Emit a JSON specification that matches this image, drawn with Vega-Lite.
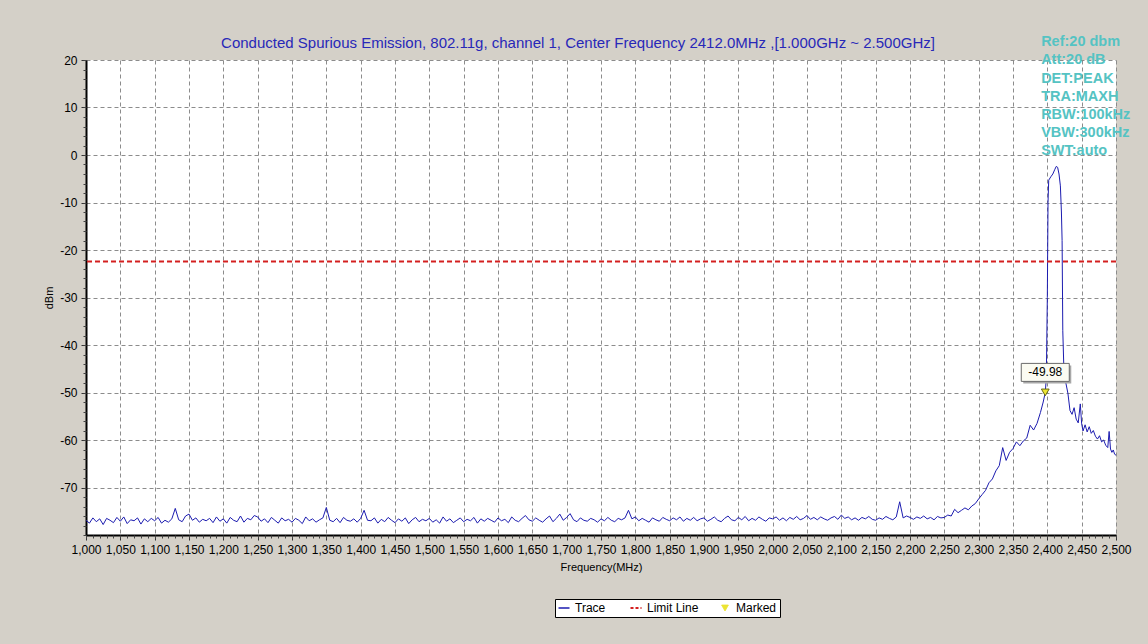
{
"$schema":"https://vega.github.io/schema/vega-lite/v6.json",
"width":1030,"height":475,
"autosize":{"type":"none"},
"padding":{"left":86,"top":60,"right":32,"bottom":109},
"background":"#d4d0c8",
"config":{"view":{"fill":"white","stroke":null},"font":"Liberation Sans"},
"title":{"text":"Conducted Spurious Emission, 802.11g, channel 1, Center Frequency 2412.0MHz ,[1.000GHz ~ 2.500GHz]","color":"#2828b8","fontSize":15,"fontWeight":"normal","font":"Liberation Sans","anchor":"middle","dx":-23,"offset":-17},
"datasets":{
"trace":[
{"f":1000,"v":-76.9},{"f":1005,"v":-77.5},{"f":1010,"v":-76.4},{"f":1015,"v":-77.2},{"f":1020,"v":-76.6},{"f":1025,"v":-77.8},{"f":1030,"v":-76.5},{"f":1035,"v":-76.9},{"f":1040,"v":-77.4},{"f":1045,"v":-76.3},
{"f":1050,"v":-77.1},{"f":1055,"v":-76.2},{"f":1060,"v":-77.6},{"f":1065,"v":-76.8},{"f":1070,"v":-77.0},{"f":1075,"v":-76.4},{"f":1080,"v":-77.7},{"f":1085,"v":-76.6},{"f":1090,"v":-77.2},{"f":1095,"v":-76.5},
{"f":1100,"v":-77.0},{"f":1105,"v":-76.3},{"f":1110,"v":-77.5},{"f":1115,"v":-76.9},{"f":1120,"v":-77.3},{"f":1125,"v":-76.6},{"f":1130,"v":-74.4},{"f":1135,"v":-76.8},{"f":1140,"v":-77.2},{"f":1145,"v":-76.0},
{"f":1150,"v":-75.6},{"f":1155,"v":-76.9},{"f":1160,"v":-76.4},{"f":1165,"v":-77.3},{"f":1170,"v":-76.7},{"f":1175,"v":-77.0},{"f":1180,"v":-76.5},{"f":1185,"v":-77.4},{"f":1190,"v":-76.2},{"f":1195,"v":-77.1},
{"f":1200,"v":-76.6},{"f":1205,"v":-77.5},{"f":1210,"v":-76.3},{"f":1215,"v":-76.9},{"f":1220,"v":-77.2},{"f":1225,"v":-76.0},{"f":1230,"v":-77.3},{"f":1235,"v":-76.5},{"f":1240,"v":-76.8},{"f":1245,"v":-75.9},
{"f":1250,"v":-76.2},{"f":1255,"v":-77.1},{"f":1260,"v":-76.6},{"f":1265,"v":-77.4},{"f":1270,"v":-76.3},{"f":1275,"v":-76.9},{"f":1280,"v":-77.5},{"f":1285,"v":-76.4},{"f":1290,"v":-77.0},{"f":1295,"v":-76.7},
{"f":1300,"v":-77.3},{"f":1305,"v":-76.5},{"f":1310,"v":-76.9},{"f":1315,"v":-77.6},{"f":1320,"v":-76.2},{"f":1325,"v":-77.0},{"f":1330,"v":-76.6},{"f":1335,"v":-77.3},{"f":1340,"v":-76.8},{"f":1345,"v":-76.4},
{"f":1350,"v":-74.2},{"f":1355,"v":-76.9},{"f":1360,"v":-77.2},{"f":1365,"v":-76.5},{"f":1370,"v":-77.4},{"f":1375,"v":-76.3},{"f":1380,"v":-76.9},{"f":1385,"v":-77.1},{"f":1390,"v":-76.6},{"f":1395,"v":-77.3},
{"f":1400,"v":-76.5},{"f":1405,"v":-74.8},{"f":1410,"v":-76.9},{"f":1415,"v":-77.0},{"f":1420,"v":-76.4},{"f":1425,"v":-77.5},{"f":1430,"v":-76.7},{"f":1435,"v":-77.2},{"f":1440,"v":-76.3},{"f":1445,"v":-76.9},
{"f":1450,"v":-77.4},{"f":1455,"v":-76.6},{"f":1460,"v":-77.1},{"f":1465,"v":-76.4},{"f":1470,"v":-77.6},{"f":1475,"v":-76.8},{"f":1480,"v":-76.3},{"f":1485,"v":-77.2},{"f":1490,"v":-76.7},{"f":1495,"v":-77.0},
{"f":1500,"v":-76.5},{"f":1505,"v":-77.3},{"f":1510,"v":-76.8},{"f":1515,"v":-77.5},{"f":1520,"v":-76.2},{"f":1525,"v":-77.1},{"f":1530,"v":-76.6},{"f":1535,"v":-77.4},{"f":1540,"v":-76.9},{"f":1545,"v":-76.4},
{"f":1550,"v":-77.2},{"f":1555,"v":-76.7},{"f":1560,"v":-77.0},{"f":1565,"v":-76.3},{"f":1570,"v":-77.5},{"f":1575,"v":-76.6},{"f":1580,"v":-77.1},{"f":1585,"v":-76.5},{"f":1590,"v":-76.9},{"f":1595,"v":-77.3},
{"f":1600,"v":-76.4},{"f":1605,"v":-77.0},{"f":1610,"v":-76.7},{"f":1615,"v":-77.4},{"f":1620,"v":-76.2},{"f":1625,"v":-76.9},{"f":1630,"v":-77.2},{"f":1635,"v":-76.5},{"f":1640,"v":-75.9},{"f":1645,"v":-76.8},
{"f":1650,"v":-77.1},{"f":1655,"v":-76.4},{"f":1660,"v":-76.9},{"f":1665,"v":-77.3},{"f":1670,"v":-76.6},{"f":1675,"v":-76.0},{"f":1680,"v":-77.2},{"f":1685,"v":-76.5},{"f":1690,"v":-75.6},{"f":1695,"v":-76.9},
{"f":1700,"v":-76.3},{"f":1705,"v":-75.5},{"f":1710,"v":-76.8},{"f":1715,"v":-77.2},{"f":1720,"v":-76.4},{"f":1725,"v":-76.9},{"f":1730,"v":-77.1},{"f":1735,"v":-76.5},{"f":1740,"v":-76.8},{"f":1745,"v":-77.3},
{"f":1750,"v":-76.6},{"f":1755,"v":-77.0},{"f":1760,"v":-76.3},{"f":1765,"v":-76.9},{"f":1770,"v":-77.2},{"f":1775,"v":-76.5},{"f":1780,"v":-76.8},{"f":1785,"v":-76.4},{"f":1790,"v":-74.8},{"f":1795,"v":-76.6},
{"f":1800,"v":-76.2},{"f":1805,"v":-77.0},{"f":1810,"v":-76.5},{"f":1815,"v":-76.9},{"f":1820,"v":-77.3},{"f":1825,"v":-76.4},{"f":1830,"v":-76.8},{"f":1835,"v":-77.1},{"f":1840,"v":-76.3},{"f":1845,"v":-76.7},
{"f":1850,"v":-77.0},{"f":1855,"v":-76.4},{"f":1860,"v":-76.8},{"f":1865,"v":-76.2},{"f":1870,"v":-77.1},{"f":1875,"v":-76.5},{"f":1880,"v":-76.9},{"f":1885,"v":-76.3},{"f":1890,"v":-77.0},{"f":1895,"v":-76.6},
{"f":1900,"v":-76.4},{"f":1905,"v":-77.1},{"f":1910,"v":-76.7},{"f":1915,"v":-76.2},{"f":1920,"v":-76.9},{"f":1925,"v":-77.2},{"f":1930,"v":-76.5},{"f":1935,"v":-76.0},{"f":1940,"v":-76.8},{"f":1945,"v":-77.0},
{"f":1950,"v":-76.3},{"f":1955,"v":-76.8},{"f":1960,"v":-76.1},{"f":1965,"v":-77.0},{"f":1970,"v":-76.5},{"f":1975,"v":-76.9},{"f":1980,"v":-76.2},{"f":1985,"v":-76.7},{"f":1990,"v":-77.1},{"f":1995,"v":-76.4},
{"f":2000,"v":-76.6},{"f":2005,"v":-76.2},{"f":2010,"v":-76.9},{"f":2015,"v":-76.4},{"f":2020,"v":-77.0},{"f":2025,"v":-76.3},{"f":2030,"v":-76.7},{"f":2035,"v":-76.1},{"f":2040,"v":-76.8},{"f":2045,"v":-76.5},
{"f":2050,"v":-75.9},{"f":2055,"v":-76.7},{"f":2060,"v":-76.3},{"f":2065,"v":-76.8},{"f":2070,"v":-76.2},{"f":2075,"v":-76.6},{"f":2080,"v":-76.9},{"f":2085,"v":-76.4},{"f":2090,"v":-76.1},{"f":2095,"v":-76.7},
{"f":2100,"v":-75.8},{"f":2105,"v":-76.5},{"f":2110,"v":-76.2},{"f":2115,"v":-76.8},{"f":2120,"v":-76.4},{"f":2125,"v":-76.9},{"f":2130,"v":-76.3},{"f":2135,"v":-76.6},{"f":2140,"v":-76.1},{"f":2145,"v":-76.7},
{"f":2150,"v":-76.9},{"f":2155,"v":-76.4},{"f":2160,"v":-76.7},{"f":2165,"v":-76.1},{"f":2170,"v":-76.5},{"f":2175,"v":-76.8},{"f":2180,"v":-76.2},{"f":2185,"v":-73.0},{"f":2190,"v":-76.4},{"f":2195,"v":-76.0},
{"f":2200,"v":-76.3},{"f":2205,"v":-76.7},{"f":2210,"v":-76.2},{"f":2215,"v":-76.5},{"f":2220,"v":-76.0},{"f":2225,"v":-76.6},{"f":2230,"v":-76.3},{"f":2235,"v":-76.8},{"f":2240,"v":-76.1},{"f":2245,"v":-76.4},
{"f":2250,"v":-76.3},{"f":2255,"v":-75.8},{"f":2260,"v":-76.0},{"f":2265,"v":-74.6},{"f":2270,"v":-75.3},{"f":2275,"v":-74.8},{"f":2280,"v":-74.3},{"f":2285,"v":-74.7},{"f":2290,"v":-73.9},{"f":2295,"v":-73.4},
{"f":2300,"v":-72.4},{"f":2305,"v":-71.5},{"f":2310,"v":-70.6},{"f":2315,"v":-69.0},{"f":2320,"v":-68.2},{"f":2325,"v":-66.5},{"f":2330,"v":-65.4},{"f":2335,"v":-61.6},{"f":2340,"v":-64.3},{"f":2345,"v":-62.6},
{"f":2350,"v":-61.8},{"f":2355,"v":-60.4},{"f":2360,"v":-61.2},{"f":2365,"v":-60.2},{"f":2370,"v":-59.6},{"f":2375,"v":-56.9},{"f":2380,"v":-57.9},{"f":2385,"v":-56.5},{"f":2390,"v":-54.2},{"f":2394,"v":-52.0},
{"f":2397,"v":-49.98},{"f":2398.5,"v":-47},{"f":2400,"v":-30},{"f":2401,"v":-10},{"f":2402,"v":-5.3},{"f":2405,"v":-4.6},{"f":2408,"v":-4.0},{"f":2411,"v":-3.0},{"f":2413,"v":-2.4},{"f":2415,"v":-2.6},
{"f":2417,"v":-4.0},{"f":2419,"v":-6.5},{"f":2420.5,"v":-12},{"f":2421.5,"v":-18},{"f":2422.5,"v":-37},{"f":2424,"v":-44.6},{"f":2427,"v":-48},{"f":2430,"v":-50.2},{"f":2433,"v":-53.8},{"f":2436,"v":-54.6},
{"f":2439,"v":-53.2},{"f":2442,"v":-55.6},{"f":2445,"v":-56.4},{"f":2448,"v":-52.4},{"f":2450,"v":-56.6},{"f":2452,"v":-58.1},{"f":2455,"v":-56.8},{"f":2458,"v":-58.3},{"f":2461,"v":-57.2},{"f":2464,"v":-58.6},
{"f":2467,"v":-58.0},{"f":2470,"v":-59.2},{"f":2473,"v":-59.8},{"f":2476,"v":-59.1},{"f":2479,"v":-60.4},{"f":2482,"v":-60.0},{"f":2485,"v":-61.1},{"f":2488,"v":-61.6},{"f":2490,"v":-58.2},{"f":2492,"v":-61.9},
{"f":2494,"v":-62.6},{"f":2496,"v":-62.1},{"f":2498,"v":-63.0},{"f":2500,"v":-63.2}
],
"marker":[{"f":2397,"v":-49.98,"label":"-49.98"}],
"limit":[{"v":-22.4}]
},
"resolve":{"axis":{"x":"independent","y":"independent"}},
"layer":[
{"data":{"name":"trace"},
 "mark":{"type":"line","strokeWidth":1,"interpolate":"linear"},
 "encoding":{
  "x":{"field":"f","type":"quantitative","scale":{"domain":[1000,2500],"nice":false,"zero":false},
   "axis":{"values":[1000,1050,1100,1150,1200,1250,1300,1350,1400,1450,1500,1550,1600,1650,1700,1750,1800,1850,1900,1950,2000,2050,2100,2150,2200,2250,2300,2350,2400,2450,2500],
    "format":",d","title":"Frequency(MHz)","titleFontSize":11,"titleFontWeight":"normal","titleColor":"black","titlePadding":6,
    "labelFontSize":12,"labelColor":"black","labelPadding":4,"labelFlush":false,"labelOverlap":false,
    "tickSize":5,"tickColor":"#333","domainColor":"black","domainWidth":2,
    "grid":true,"gridDash":[4,3],"gridColor":"#8c8c8c","gridWidth":1}},
  "y":{"field":"v","type":"quantitative","scale":{"domain":[-80,20],"nice":false,"zero":false},
   "axis":{"values":[-70,-60,-50,-40,-30,-20,-10,0,10,20],"labelExpr":"'' + datum.value",
    "title":"dBm","titleFontSize":11,"titleFontWeight":"normal","titleColor":"black","titlePadding":5,
    "labelFontSize":12,"labelColor":"black","labelPadding":4,"labelFlush":false,
    "tickSize":5,"tickColor":"#333","domainColor":"black","domainWidth":2,
    "grid":true,"gridDash":[4,3],"gridColor":"#8c8c8c","gridWidth":1}},
  "color":{"datum":"Trace","scale":{"domain":["Trace","Limit Line","Marked"],"range":["#1c1cb0","#d42020","#ece432"]},
   "legend":{"orient":"none","legendX":469,"legendY":539,"direction":"horizontal","columns":3,"title":null,
    "fillColor":"white","strokeColor":"black","padding":3,"columnPadding":20,
    "labelFont":"Liberation Sans","labelFontSize":12,"labelColor":"black","labelOffset":5,
    "symbolType":"stroke","symbolSize":121,
    "encode":{"symbols":{"update":{
     "shape":{"signal":"datum.value==='Marked' ? 'triangle-down' : 'stroke'"},
     "size":{"signal":"datum.value==='Marked' ? 45 : 121"},
     "fill":{"signal":"datum.value==='Marked' ? '#ece432' : 'transparent'"},
     "stroke":{"signal":"datum.value==='Marked' ? '#6a6a10' : (datum.value==='Trace' ? '#1c1cb0' : '#d42020')"},
     "strokeDash":{"signal":"datum.value==='Limit Line' ? [3,2] : [1,0]"},
     "strokeWidth":{"signal":"datum.value==='Limit Line' ? 2 : (datum.value==='Trace' ? 1.5 : 1)"},
     "opacity":{"value":1}
    }}}}}
 }},
{"data":{"name":"limit"},
 "mark":{"type":"rule","strokeDash":[5,3],"strokeWidth":2},
 "encoding":{"y":{"field":"v","type":"quantitative","axis":null},"color":{"datum":"Limit Line"}}},
{"data":{"values":[{}]},
 "mark":{"type":"point","opacity":0},
 "encoding":{
  "x":{"datum":1000,"type":"quantitative","axis":{"orient":"bottom","tickCount":150,"labels":false,"grid":false,"domain":false,"title":null,"tickSize":3,"tickColor":"#444"}},
  "y":{"datum":-80,"type":"quantitative","axis":{"orient":"left","tickCount":50,"labels":false,"grid":false,"domain":false,"title":null,"tickSize":3,"tickColor":"#444"}}}},
{"data":{"name":"marker"},
 "mark":{"type":"point","shape":"M-1,-0.375H1V0.375H-1Z","size":2304,"filled":true,"fill":"#a8a8a8","opacity":1,"xOffset":2,"yOffset":-18,"strokeWidth":0},
 "encoding":{"x":{"field":"f","type":"quantitative","axis":null},"y":{"field":"v","type":"quantitative","axis":null}}},
{"data":{"name":"marker"},
 "mark":{"type":"point","shape":"M-1,-0.375H1V0.375H-1Z","size":2304,"filled":true,"fill":"#fbfbf2","stroke":"#6a6a6a","strokeWidth":1,"opacity":1,"yOffset":-20},
 "encoding":{"x":{"field":"f","type":"quantitative","axis":null},"y":{"field":"v","type":"quantitative","axis":null}}},
{"data":{"name":"marker"},
 "mark":{"type":"text","fontSize":12,"font":"Liberation Sans","color":"black","align":"center","baseline":"middle","yOffset":-20},
 "encoding":{"x":{"field":"f","type":"quantitative","axis":null},"y":{"field":"v","type":"quantitative","axis":null},"text":{"field":"label","type":"nominal"}}},
{"data":{"name":"marker"},
 "mark":{"type":"point","shape":"triangle-down","size":60,"filled":true,"stroke":"#6a6a10","strokeWidth":1,"opacity":1},
 "encoding":{"x":{"field":"f","type":"quantitative","axis":null},"y":{"field":"v","type":"quantitative","axis":null},"color":{"datum":"Marked"}}},
{"data":{"values":[{}]},
 "mark":{"type":"text","font":"Liberation Sans","fontSize":14.5,"fontWeight":"bold","color":"#55c3c3","align":"left","baseline":"alphabetic","lineHeight":18.2},
 "encoding":{"x":{"datum":2391,"type":"quantitative","axis":null},"y":{"datum":22.9,"type":"quantitative","axis":null},
  "text":{"value":["Ref:20 dbm","Att:20 dB","DET:PEAK","TRA:MAXH","RBW:100kHz","VBW:300kHz","SWT:auto"]}}}
]
}
